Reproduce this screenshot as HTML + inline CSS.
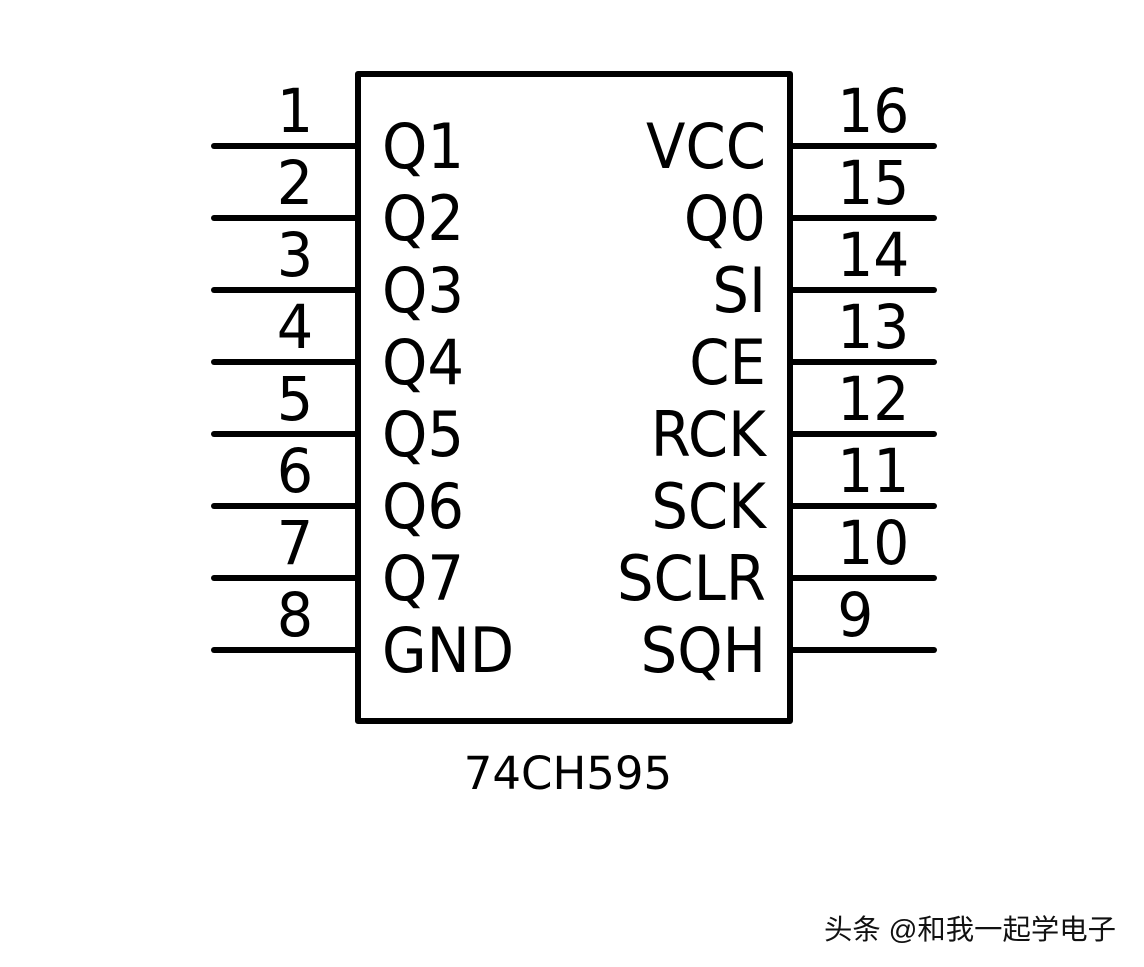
<!DOCTYPE html>
<html>
<head>
<meta charset="utf-8">
<style>
  html, body { margin:0; padding:0; background:#fff; }
  body { width:1144px; height:967px; overflow:hidden; }
  svg { display:block; }
  .lbl { font-family: "DejaVu Sans", "Liberation Sans", sans-serif; font-size:62px; fill:#000; }
  .num { font-family: "DejaVu Sans", "Liberation Sans", sans-serif; font-size:61px; fill:#000; }
  .part { font-family: "DejaVu Sans", "Liberation Sans", sans-serif; font-size:45px; fill:#000; }
  .wm { font-family: "Liberation Sans", "Noto Sans CJK SC", sans-serif; font-size:28px; fill:#111; }
</style>
</head>
<body>
<svg width="1144" height="967" viewBox="0 0 1144 967" xmlns="http://www.w3.org/2000/svg">
  <rect x="0" y="0" width="1144" height="967" fill="#fff"/>
  <!-- body -->
  <rect x="358" y="74" width="432" height="647" fill="none" stroke="#000" stroke-width="6" stroke-linejoin="round"/>
  <g stroke="#000" stroke-width="6" stroke-linecap="round">
    <line x1="214" y1="146" x2="358" y2="146"/>
    <line x1="214" y1="218" x2="358" y2="218"/>
    <line x1="214" y1="290" x2="358" y2="290"/>
    <line x1="214" y1="362" x2="358" y2="362"/>
    <line x1="214" y1="434" x2="358" y2="434"/>
    <line x1="214" y1="506" x2="358" y2="506"/>
    <line x1="214" y1="578" x2="358" y2="578"/>
    <line x1="214" y1="650" x2="358" y2="650"/>
    <line x1="790" y1="146" x2="934" y2="146"/>
    <line x1="790" y1="218" x2="934" y2="218"/>
    <line x1="790" y1="290" x2="934" y2="290"/>
    <line x1="790" y1="362" x2="934" y2="362"/>
    <line x1="790" y1="434" x2="934" y2="434"/>
    <line x1="790" y1="506" x2="934" y2="506"/>
    <line x1="790" y1="578" x2="934" y2="578"/>
    <line x1="790" y1="650" x2="934" y2="650"/>
  </g>
  <!-- left pin numbers -->
  <g class="num" text-anchor="middle" transform="matrix(0.94,0,0,1,17.7,0)">
    <text x="295" y="132">1</text>
    <text x="295" y="204">2</text>
    <text x="295" y="276">3</text>
    <text x="295" y="348">4</text>
    <text x="295" y="420">5</text>
    <text x="295" y="492">6</text>
    <text x="295" y="564">7</text>
    <text x="295" y="636">8</text>
  </g>
  <!-- right pin numbers -->
  <g class="num" text-anchor="start" transform="matrix(0.93,0,0,1,58.8,0)">
    <text x="837" y="132">16</text>
    <text x="837" y="204">15</text>
    <text x="837" y="276">14</text>
    <text x="837" y="348">13</text>
    <text x="837" y="420">12</text>
    <text x="837" y="492">11</text>
    <text x="837" y="564">10</text>
    <text x="837" y="636">9</text>
  </g>
  <!-- left labels -->
  <g class="lbl" text-anchor="start" transform="matrix(0.93,0,0,1,26.7,0)">
    <text x="382" y="168">Q1</text>
    <text x="382" y="240">Q2</text>
    <text x="382" y="312">Q3</text>
    <text x="382" y="384">Q4</text>
    <text x="382" y="456">Q5</text>
    <text x="382" y="528">Q6</text>
    <text x="382" y="600">Q7</text>
    <text x="382" y="672">GND</text>
  </g>
  <!-- right labels -->
  <g class="lbl" text-anchor="end" transform="matrix(0.93,0,0,1,53.6,0)">
    <text x="766" y="168">VCC</text>
    <text x="766" y="240">Q0</text>
    <text x="766" y="312">SI</text>
    <text x="766" y="384">CE</text>
    <text x="766" y="456">RCK</text>
    <text x="766" y="528">SCK</text>
    <text x="766" y="600">SCLR</text>
    <text x="766" y="672">SQH</text>
  </g>
  <!-- part name -->
  <text class="part" x="568" y="789" text-anchor="middle">74CH595</text>
  <!-- watermark -->
  <text class="wm" x="824" y="939" textLength="292" lengthAdjust="spacingAndGlyphs" style="paint-order:stroke" stroke="#fff" stroke-width="2">头条 @和我一起学电子</text>
</svg>
</body>
</html>
